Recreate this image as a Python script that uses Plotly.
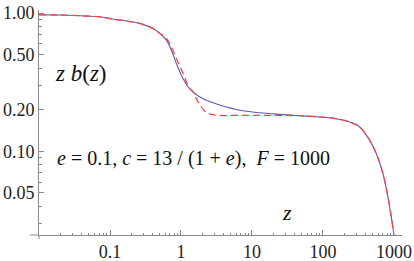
import plotly.graph_objects as go

# ---- data ----
z_blue = [0.01, 0.0196, 0.0374, 0.0716, 0.109, 0.172, 0.262, 0.399, 0.501, 0.622,
          0.733, 0.861, 1.013, 1.256, 1.56, 1.83, 2.28, 3.51, 6.71, 12.8, 24.5,
          46.9, 89.9, 125, 238, 329, 455, 565, 700, 823, 918, 990, 1000]
v_blue = [0.972, 0.967, 0.956, 0.940, 0.905, 0.875, 0.842, 0.775, 0.713, 0.637,
          0.539, 0.432, 0.355, 0.292, 0.262, 0.248, 0.234, 0.216, 0.198, 0.190, 0.185,
          0.181, 0.177, 0.175, 0.163, 0.150, 0.120, 0.096, 0.069, 0.0467, 0.0334, 0.0254, 0.02]

z_red = [0.01, 0.0196, 0.0374, 0.0716, 0.109, 0.172, 0.262, 0.399, 0.501, 0.622,
         0.693, 0.861, 1.07, 1.32, 1.45, 1.74, 2.15, 2.68, 3.31, 6.71, 12.8, 24.5,
         46.9, 89.9, 125, 238, 329, 455, 565, 700, 823, 918, 990, 1000]
v_red = [0.972, 0.967, 0.956, 0.940, 0.905, 0.875, 0.842, 0.775, 0.715, 0.655,
         0.603, 0.470, 0.366, 0.285, 0.273, 0.228, 0.196, 0.185, 0.182, 0.182, 0.182, 0.182,
         0.181, 0.177, 0.175, 0.163, 0.150, 0.120, 0.096, 0.069, 0.0467, 0.0334, 0.0254, 0.02]

x_ticks = [0.1, 1, 10, 100, 1000]
x_tick_labels = ["0.1", "1", "10", "100", "1000"]
x_minor = [m * d for d in [0.01, 0.1, 1, 10, 100] for m in range(2, 10)]
y_ticks = [1.0, 0.5, 0.2, 0.1, 0.05]
y_tick_labels = ["1.00", "0.50", "0.20", "0.10", "0.05"]
y_minor = [0.9, 0.8, 0.7, 0.6, 0.4, 0.3, 0.09, 0.08, 0.07, 0.06, 0.04, 0.03]

axis_col = "#8a8a8a"
font_fam = "Liberation Serif, Times New Roman, Times, serif"

fig = go.Figure()
fig.add_trace(go.Scatter(x=z_blue, y=v_blue, mode="lines", line_shape="spline",
                         line=dict(color="#5a5ab4", width=1.1), hoverinfo="skip"))
fig.add_trace(go.Scatter(x=z_red, y=v_red, mode="lines", line_shape="spline",
                         line=dict(color="#ff4040", width=1.3, dash="7px,4px"), hoverinfo="skip"))

W, H = 414, 261
L, R, T, B = 39, 12, 10, 26
fig.update_layout(
    width=W, height=H,
    margin=dict(l=L, r=R, t=T, b=B, pad=0, autoexpand=False),
    paper_bgcolor="white", plot_bgcolor="white",
    showlegend=False,
    font=dict(family=font_fam, size=18, color="#222"),
    xaxis=dict(type="log", range=[-2, 3.113], showgrid=False, zeroline=False,
               automargin=False,
               showline=True, linecolor=axis_col, linewidth=1,
               tickmode="array", tickvals=x_ticks, ticktext=x_tick_labels,
               ticks="inside", ticklen=5, tickcolor=axis_col, tickwidth=1,
               minor=dict(tickmode="array", tickvals=x_minor, ticks="inside",
                          ticklen=2.5, tickcolor=axis_col, showgrid=False),
               tickfont=dict(family=font_fam, size=18, color="#222")),
    yaxis=dict(type="log", range=[-1.605, 0.022], showgrid=False, zeroline=False,
               automargin=False,
               showline=True, linecolor=axis_col, linewidth=1,
               tickmode="array", tickvals=y_ticks, ticktext=y_tick_labels,
               ticks="inside", ticklen=5, tickcolor=axis_col, tickwidth=1,
               minor=dict(tickmode="array", tickvals=y_minor, ticks="inside",
                          ticklen=2.5, tickcolor=axis_col, showgrid=False),
               tickfont=dict(family=font_fam, size=18, color="#222")),
)

pw = W - L - R
ph = H - T - B
# small axis extensions beyond the origin (Mathematica-style crossing axes)
fig.add_shape(type="line", xref="paper", yref="paper", x0=-9 / pw, x1=0, y0=0, y1=0,
              line=dict(color=axis_col, width=1))
fig.add_shape(type="line", xref="paper", yref="paper", x0=0, x1=0, y0=-4 / ph, y1=0,
              line=dict(color=axis_col, width=1))

fig.add_annotation(xref="paper", yref="paper", x=(81 - L) / pw, y=(H - B - 73) / ph,
                   text="<i>z b</i>(<i>z</i>)", showarrow=False,
                   font=dict(family=font_fam, size=23, color="#111"),
                   xanchor="center", yanchor="middle")
fig.add_annotation(xref="paper", yref="paper", x=(193 - L) / pw, y=(H - B - 158) / ph,
                   text="<i>e</i> = 0.1, <i>c</i> = 13 / (1 + <i>e</i>),  <i>F</i> = 1000",
                   showarrow=False, font=dict(family=font_fam, size=20, color="#111"),
                   xanchor="center", yanchor="middle")
fig.add_annotation(xref="paper", yref="paper", x=(287 - L) / pw, y=(H - B - 212) / ph,
                   text="<i>z</i>", showarrow=False,
                   font=dict(family=font_fam, size=22, color="#111"),
                   xanchor="center", yanchor="middle")

fig.write_html("out.html", config={"displayModeBar": False},
               post_script="document.body.style.margin='0';document.body.style.overflow='hidden';")
